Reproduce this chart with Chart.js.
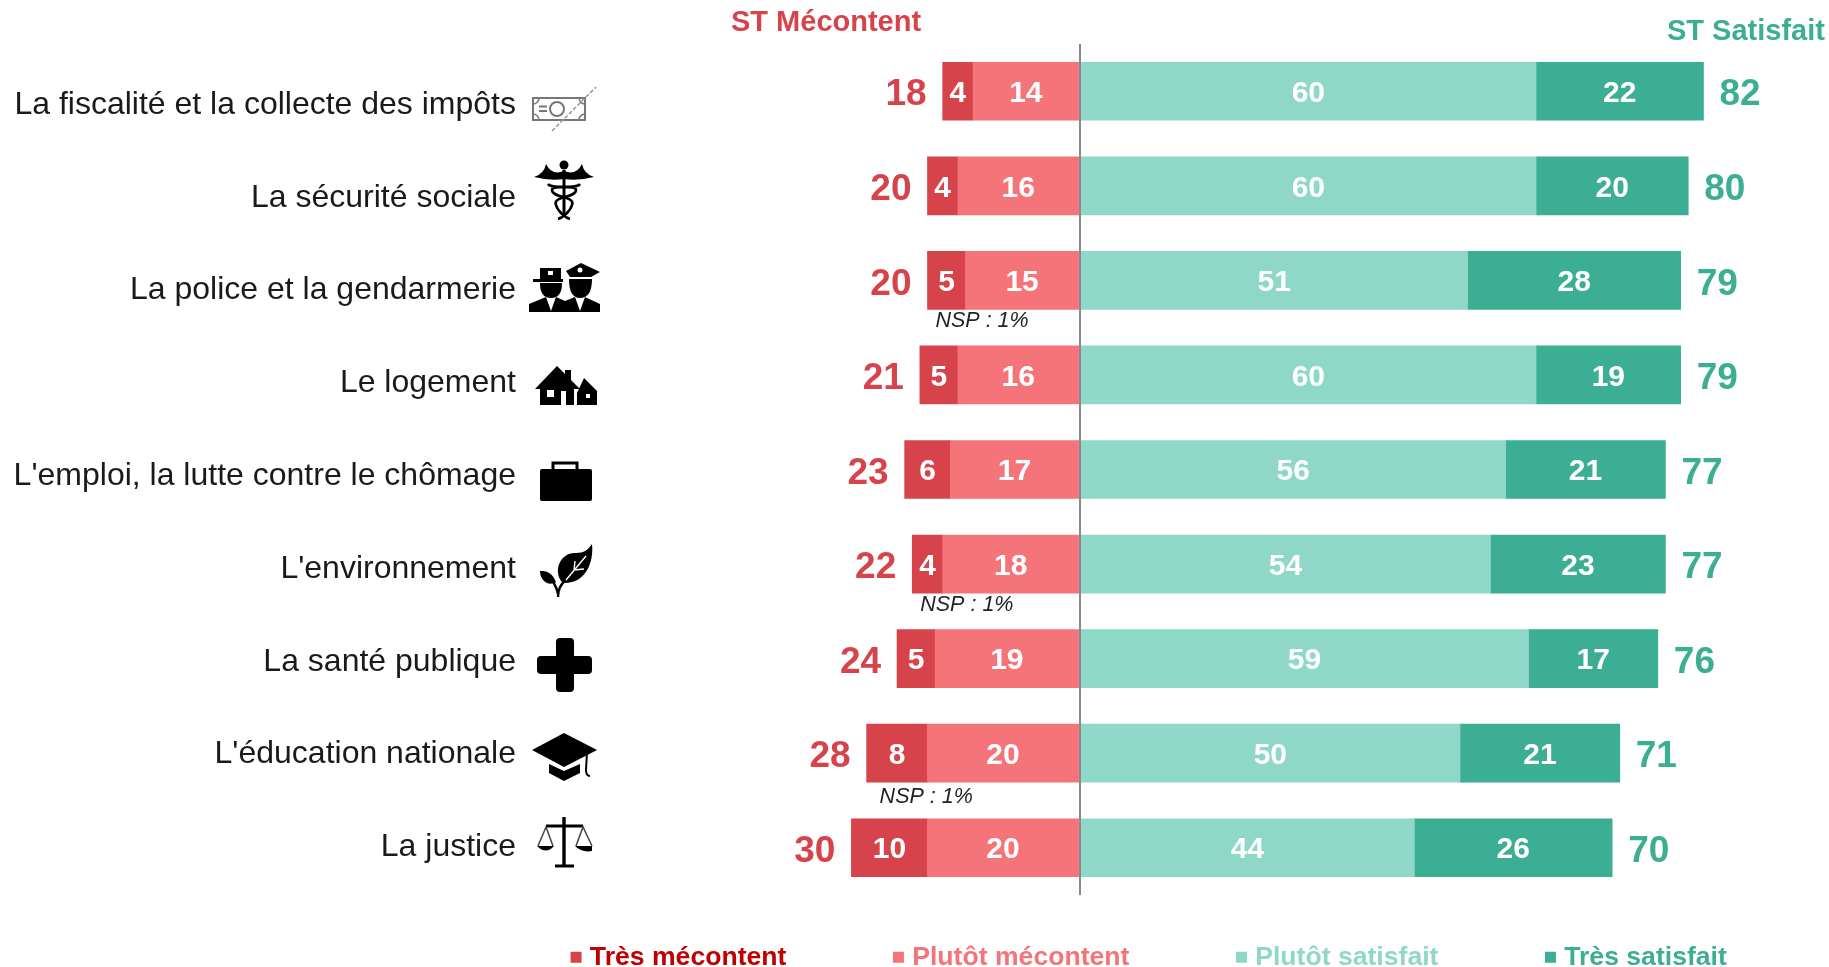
<!DOCTYPE html>
<html><head><meta charset="utf-8">
<style>html,body{margin:0;padding:0;background:#fff;overflow:hidden}#w{position:absolute;left:0;top:0;width:1829px;height:967px}</style>
<script src="https://cdn.jsdelivr.net/npm/chart.js@4/dist/chart.umd.min.js"></script>
</head><body><div id="w"><canvas id="c" width="1829" height="967"></canvas></div>
<script>
const categories=["La fiscalité et la collecte des impôts","La sécurité sociale","La police et la gendarmerie","Le logement","L'emploi, la lutte contre le chômage","L'environnement","La santé publique","L'éducation nationale","La justice"];
const tresMecontent=[4,4,5,5,6,4,5,8,10];
const plutotMecontent=[14,16,15,16,17,18,19,20,20];
const plutotSatisfait=[60,60,51,60,56,54,59,50,44];
const tresSatisfait=[22,20,28,19,21,23,17,21,26];
const stMecontent=[18,20,20,21,23,22,24,28,30];
const stSatisfait=[82,80,79,79,77,77,76,71,70];
const nspNotes=[null,null,"NSP : 1%",null,null,"NSP : 1%",null,"NSP : 1%",null];
const seriesNames=["Très mécontent","Plutôt mécontent","Plutôt satisfait","Très satisfait"];
const seriesColors=["#D6434B","#F47479","#8FD7C7","#3BAE94"];
const legendColors=["#C00000","#F47479","#8FD7C7","#3BAE94"];
const titleRed="#D6434B", titleGreen="#3BAE94";
const F='"Liberation Sans", Arial, sans-serif';

function text(ctx,s,x,y,font,color,align){ctx.font=font;ctx.fillStyle=color;ctx.textAlign=align||'center';ctx.textBaseline='middle';ctx.fillText(s,x,y);}

const icons=[
 function(c){c.strokeStyle='#777';c.lineWidth=2;c.strokeRect(533,98,52,22);
  c.beginPath();c.arc(557,109,7,0,7);c.stroke();
  c.beginPath();c.moveTo(539,106.5);c.lineTo(547,106.5);c.moveTo(539,111);c.lineTo(547,111);c.stroke();
  c.lineWidth=1.5;[[533,98,0,1.6],[533,120,4.7,6.3],[585,98,1.6,3.2],[585,120,3.2,4.7]].forEach(a=>{c.beginPath();c.arc(a[0],a[1],6,a[2],a[3]);c.stroke();});
  c.setLineDash([4,2]);c.lineWidth=1.6;c.strokeStyle='#999';c.beginPath();c.moveTo(552,131);c.lineTo(596,87);c.stroke();c.setLineDash([]);},
 function(c){c.fillStyle='#000';c.beginPath();c.arc(564,165,4.5,0,7);c.fill();
  c.beginPath();c.moveTo(564,171);c.quadraticCurveTo(552,176,546,164);c.quadraticCurveTo(544,174,534,177);c.quadraticCurveTo(550,181,564,179);
  c.quadraticCurveTo(578,181,594,177);c.quadraticCurveTo(584,174,582,164);c.quadraticCurveTo(576,176,564,171);c.fill();
  c.strokeStyle='#000';c.lineWidth=3;c.beginPath();c.moveTo(564,170);c.lineTo(564,217);c.stroke();
  c.lineWidth=2.6;c.beginPath();c.moveTo(548,184);c.bezierCurveTo(552,190,576,184,576,190);c.bezierCurveTo(576,198,552,196,556,205);c.bezierCurveTo(558,212,566,218,570,219);
  c.moveTo(580,184);c.bezierCurveTo(576,190,552,184,552,190);c.bezierCurveTo(552,198,576,196,572,205);c.bezierCurveTo(570,212,562,218,558,219);c.stroke();},
 function(c){c.fillStyle='#000';
  c.fillRect(540,268,21,11);c.fillRect(533,279,30,3);
  c.beginPath();c.moveTo(540,283);c.lineTo(562,283);c.quadraticCurveTo(562,298,551,298);c.quadraticCurveTo(540,298,540,283);c.fill();
  c.beginPath();c.moveTo(566,271);c.lineTo(581,263);c.lineTo(600,272);c.lineTo(591,277);c.lineTo(570,277);c.closePath();c.fill();
  c.beginPath();c.moveTo(569,279);c.lineTo(592,279);c.quadraticCurveTo(592,298,580,298);c.quadraticCurveTo(569,298,569,279);c.fill();
  c.beginPath();c.moveTo(529,312);c.lineTo(529,304);c.lineTo(546,297);c.lineTo(551,311);c.lineTo(556,297);c.lineTo(565,301);c.lineTo(575,297);c.lineTo(580,311);c.lineTo(585,297);c.lineTo(600,304);c.lineTo(600,312);c.closePath();c.fill();
  c.fillStyle='#fff';c.fillRect(548,271,5,4);c.beginPath();c.arc(580,270,2.5,0,7);c.fill();},
 function(c){c.fillStyle='#000';
  c.beginPath();c.moveTo(535,389);c.lineTo(557,366);c.lineTo(565,374);c.lineTo(565,370);c.lineTo(571,370);c.lineTo(571,380);c.lineTo(580,389);c.lineTo(574,389);c.lineTo(574,405);c.lineTo(540,405);c.lineTo(540,389);c.closePath();c.fill();
  c.beginPath();c.moveTo(577,393);c.lineTo(584,378);c.lineTo(597,391);c.lineTo(597,405);c.lineTo(577,405);c.closePath();c.fill();
  c.fillStyle='#fff';c.fillRect(547,390,7,7);c.fillRect(561,391,5,14);c.fillRect(586,394,4,4);},
 function(c){c.fillStyle='#000';c.beginPath();c.roundRect(540,469,52,32,2);c.fill();
  c.strokeStyle='#000';c.lineWidth=3;c.beginPath();c.moveTo(553,469);c.lineTo(553,463);c.lineTo(577,463);c.lineTo(577,469);c.stroke();},
 function(c){c.fillStyle='#000';
  c.beginPath();c.moveTo(563,583);c.bezierCurveTo(552,572,560,552,576,553);c.bezierCurveTo(584,553,588,550,592,544);c.bezierCurveTo(594,562,586,584,563,583);c.fill();
  c.beginPath();c.moveTo(556,582);c.bezierCurveTo(552,572,546,571,540,571);c.bezierCurveTo(540,580,548,587,556,582);c.fill();
  c.strokeStyle='#000';c.lineWidth=2.4;c.beginPath();c.moveTo(558,597);c.quadraticCurveTo(558,586,566,580);c.moveTo(558,594);c.quadraticCurveTo(557,588,552,580);c.stroke();
  c.strokeStyle='#fff';c.lineWidth=1.4;c.beginPath();c.moveTo(566,580);c.lineTo(586,556);c.moveTo(574,570);c.lineTo(575,561);c.moveTo(574,570);c.lineTo(584,569);c.stroke();},
 function(c){c.fillStyle='#000';c.beginPath();c.roundRect(556,638,18,54,4);c.fill();c.beginPath();c.roundRect(537,656,55,18,4);c.fill();},
 function(c){c.fillStyle='#000';
  c.beginPath();c.moveTo(532,750);c.lineTo(564,733);c.lineTo(597,750);c.lineTo(564,767);c.closePath();c.fill();
  c.beginPath();c.moveTo(549,764);c.lineTo(564,771);c.lineTo(580,764);c.lineTo(580,773);c.lineTo(564,781);c.lineTo(549,773);c.closePath();c.fill();
  c.strokeStyle='#000';c.lineWidth=2;c.beginPath();c.moveTo(587,752);c.lineTo(586,770);c.quadraticCurveTo(586,776,590,776);c.stroke();},
 function(c){c.strokeStyle='#000';c.fillStyle='#000';c.lineWidth=3.4;c.beginPath();c.moveTo(564,817);c.lineTo(564,866);c.stroke();
  c.lineWidth=3;c.beginPath();c.moveTo(546,826);c.lineTo(583,826);c.moveTo(555,866);c.lineTo(574,866);c.stroke();
  c.strokeStyle='#444';c.lineWidth=1.5;c.beginPath();c.moveTo(538,846);c.lineTo(546,827);c.lineTo(553,846);c.moveTo(576,846);c.lineTo(583,827);c.lineTo(592,846);c.stroke();
  c.fillStyle='#000';c.beginPath();c.moveTo(537,846);c.lineTo(554,846);c.quadraticCurveTo(546,855,537,846);c.fill();
  c.beginPath();c.moveTo(575,846);c.lineTo(592,846);c.lineTo(592,851);c.quadraticCurveTo(582,853,575,846);c.fill();}
];
const noteOffsets=[null,null,[8,41],null,null,[8,41],null,[13,44],null];

const overlay={id:'overlay',
 beforeDraw(chart){const l=chart.legend;l.left=14;l.right=2000;l.top=957-13-111.5;},
 afterDatasetsDraw(chart){
  const c=chart.ctx,x=chart.scales.x;c.save();
  const metas=chart.data.datasets.map((_,i)=>chart.getDatasetMeta(i));
  metas.forEach((m,d)=>m.data.forEach((b,i)=>{
    const v=[tresMecontent,plutotMecontent,plutotSatisfait,tresSatisfait][d][i];
    text(c,String(v),(b.x+b.base)/2,b.y+2.5,'bold 30px '+F,'#fff');
  }));
  categories.forEach((name,i)=>{
    const y=metas[0].data[i].y;
    text(c,String(stMecontent[i]),x.getPixelForValue(-stMecontent[i])-16,y+4,'bold 37px '+F,titleRed,'right');
    text(c,String(stSatisfait[i]),x.getPixelForValue(stSatisfait[i])+16,y+4,'bold 37px '+F,titleGreen,'left');
    if(nspNotes[i]) text(c,nspNotes[i],x.getPixelForValue(-stMecontent[i])+noteOffsets[i][0],y+noteOffsets[i][1],'italic 21.5px '+F,'#222','left');
    text(c,name,516,105+92.8*i,'32px '+F,'#1a1a1a','right');
    c.save();icons[i](c);c.restore();
  });
  text(c,'ST Mécontent',731,23,'bold 29px '+F,titleRed,'left');
  text(c,'ST Satisfait',1667,32,'bold 29px '+F,titleGreen,'left');
  c.restore();
 }};

new Chart(document.getElementById('c'),{
 type:'bar',
 data:{labels:categories,datasets:[
  {label:seriesNames[0],data:tresMecontent.map(v=>-v),backgroundColor:seriesColors[0],order:2},
  {label:seriesNames[1],data:plutotMecontent.map(v=>-v),backgroundColor:seriesColors[1],order:1},
  {label:seriesNames[2],data:plutotSatisfait,backgroundColor:seriesColors[2],order:3},
  {label:seriesNames[3],data:tresSatisfait,backgroundColor:seriesColors[3],order:4}
 ]},
 options:{indexAxis:'y',responsive:false,animation:false,
  datasets:{bar:{barThickness:58,borderWidth:0}},
  layout:{padding:{left:471,right:0,top:44,bottom:0}},
  scales:{
   x:{stacked:true,min:-80,max:98.5,ticks:{display:false,stepSize:10},border:{display:false},
      grid:{z:1,drawTicks:false,tickLength:0,lineWidth:2,color:ctx=>ctx.tick&&ctx.tick.value===0?'#8a8a8a':'rgba(0,0,0,0)'}},
   y:{stacked:true,display:false}
  },
  plugins:{tooltip:{enabled:false},title:{display:false},
   legend:{display:true,position:'bottom',maxHeight:72,
    labels:{usePointStyle:true,pointStyle:'rect',boxWidth:1,boxHeight:11,padding:111.5,font:{family:F,size:26.6,weight:'bold'},
     generateLabels(chart){return chart.data.datasets.map((d,i)=>({text:d.label,fillStyle:d.backgroundColor,strokeStyle:d.backgroundColor,lineWidth:0,pointStyle:'rect',fontColor:legendColors[i],datasetIndex:i,hidden:false}));}}}
  }},
 plugins:[overlay]
});
</script></body></html>
